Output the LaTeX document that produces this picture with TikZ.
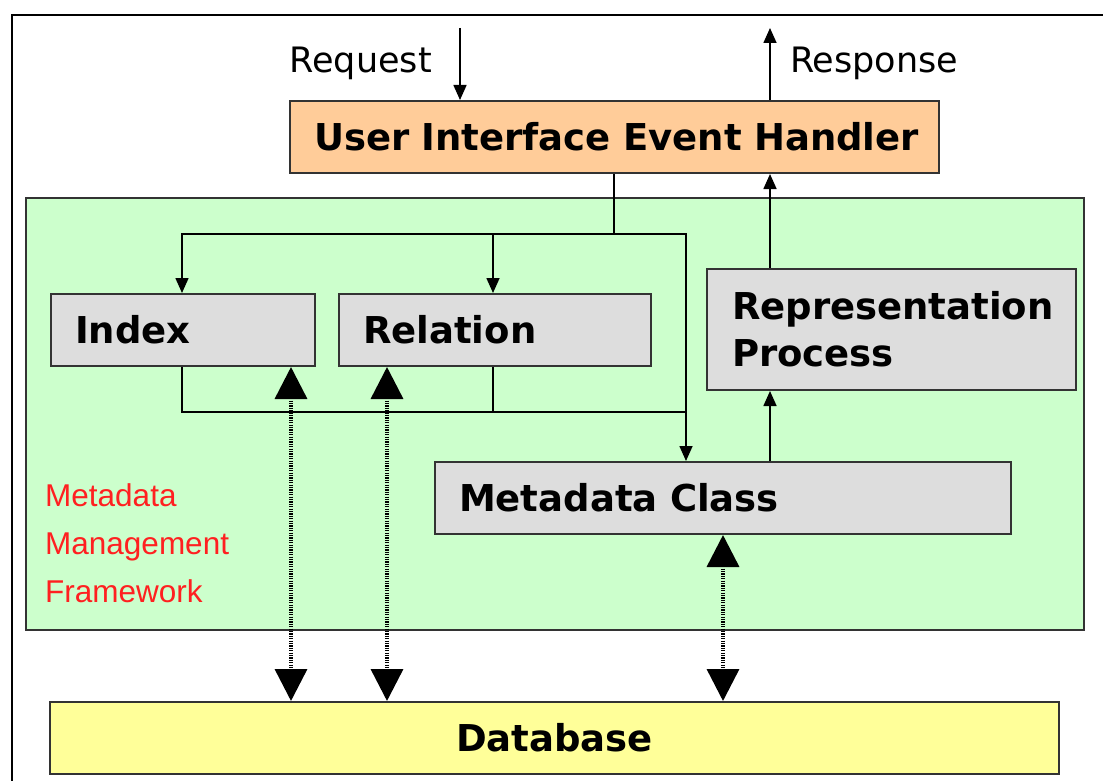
\documentclass[tikz,border=0pt]{standalone}
\usepackage{fontspec}
\setmainfont{DejaVu Sans}
\newfontfamily\redfont{Liberation Sans}
\usetikzlibrary{arrows.meta}
\definecolor{uiorange}{HTML}{FFCC99}
\definecolor{mmfgreen}{HTML}{CCFFCC}
\definecolor{boxgray}{HTML}{DDDDDD}
\definecolor{dbyellow}{HTML}{FFFF99}
\definecolor{edgegray}{HTML}{333333}
\definecolor{labelred}{HTML}{FF2020}

\begin{document}
\begin{tikzpicture}[x=1pt,y=-1pt,
  box/.style={draw=edgegray, line width=2pt, anchor=north west,
    inner ysep=0pt, inner xsep=24pt, align=left,
    font=\fontsize{37}{47}\selectfont\bfseries},
  flow/.style={line width=1.6pt, -{Triangle[width=13pt,length=15pt]}},
  plain/.style={line width=1.6pt},
  dbline/.style={line width=3.5pt, dash pattern=on 1.2pt off 1.2pt,
    {Triangle[width=32pt,length=32pt]}-{Triangle[width=32pt,length=32pt]}},
  caption/.style={inner sep=0pt, font=\fontsize{35}{42}\selectfont}
]
\useasboundingbox (0,0) rectangle (1103,781);
\fill[white] (0,0) rectangle (1103,781);
% outer frame, running off the right and bottom edges
\draw[line width=2.5pt] (12,1300) -- (12,15) -- (1300,15);

% framework area
\node[draw=edgegray, line width=2pt, fill=mmfgreen, anchor=north west,
  minimum width=1058pt, minimum height=432pt, inner sep=0pt] (mmf) at (25,197) {};
\node[anchor=west, align=left, inner sep=0pt, text=labelred,
  font=\redfont\fontsize{31.5}{48}\selectfont] (mmflabel) at (45,543)
  {Metadata\\Management\\Framework};

% boxes
\node[box, fill=uiorange, inner xsep=12pt, text width=625pt, minimum width=649pt, minimum height=72pt] (ui) at (289,100) {\hspace*{12pt}User Interface Event Handler};
\node[box, fill=boxgray, text width=216pt, minimum width=264pt, minimum height=72pt] (index) at (50,293) {Index};
\node[box, fill=boxgray, text width=264pt, minimum width=312pt, minimum height=72pt] (relation) at (338,293) {Relation};
\node[box, fill=boxgray, inner xsep=25pt, text width=319pt, minimum width=369pt, minimum height=121pt] (rep) at (706,268) {Representation\\Process};
\node[box, fill=boxgray, text width=528pt, minimum width=576pt, minimum height=72pt] (meta) at (434,461) {Metadata Class};
\node[box, fill=dbyellow, align=center, text width=961pt, minimum width=1009pt, minimum height=72pt] (db) at (49,701) {Database};

% request / response
\coordinate (reqin) at (460,28);
\coordinate (respout) at (770,28);
\draw[flow] (reqin) -- (reqin |- ui.north);
\draw[flow] (respout |- ui.north) -- (respout);
\node[caption, anchor=east] (reqlbl) at (432,63) {Request};
\node[caption, anchor=west] (resplbl) at (790,63) {Response};

% column positions of the connectors
\coordinate (ix) at (182,0);
\coordinate (rx) at (493,0);
\coordinate (mx) at (686,0);
\coordinate (px) at (770,0);
\coordinate (dx1) at (291,0);
\coordinate (dx2) at (387,0);
\coordinate (dx3) at (723,0);
\coordinate (split) at (614,234);
\coordinate (merge) at (0,412);

% event handler dispatch
\draw[plain] (split |- ui.south) -- (split);
\draw[flow] (split) -| (ix |- index.north);
\draw[flow] (rx |- split) -- (rx |- relation.north);
\draw[flow] (split) -| (mx |- meta.north);

% index and relation feed the metadata class
\draw[plain] (ix |- index.south) |- (mx |- merge);
\draw[plain] (rx |- relation.south) -- (rx |- merge);

% representation path back to the handler
\draw[flow] (px |- meta.north) -- (px |- rep.south);
\draw[flow] (px |- rep.north) -- (px |- ui.south);

% database access
\draw[dbline] (dx1 |- index.south) -- (dx1 |- db.north);
\draw[dbline] (dx2 |- relation.south) -- (dx2 |- db.north);
\draw[dbline] (dx3 |- meta.south) -- (dx3 |- db.north);
\end{tikzpicture}
\end{document}
